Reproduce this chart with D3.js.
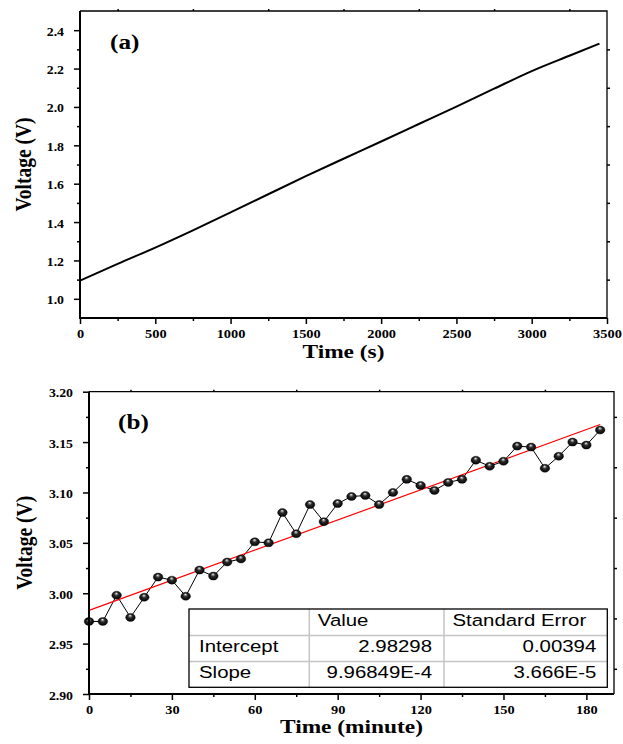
<!DOCTYPE html>
<html>
<head>
<meta charset="utf-8">
<script src="https://cdn.jsdelivr.net/npm/d3@7"></script>
<style>
body { margin: 0; background: #fff; }
svg { display: block; }
text { font-family: "Liberation Serif", "Times New Roman", serif; font-weight: bold; fill: #000; }
.tbl text { font-family: "Liberation Sans", Arial, sans-serif; font-weight: normal; }
</style>
</head>
<body>
<svg id="chart" width="623" height="744"></svg>
<script>
// panel (a): voltage vs time in seconds
const timeA = [0, 250, 500, 750, 1000, 1250, 1500, 1750, 2000, 2250, 2500, 2750, 3000, 3250, 3450];
const voltA = [1.095, 1.182, 1.267, 1.357, 1.450, 1.545, 1.639, 1.730, 1.820, 1.911, 2.002, 2.095, 2.187, 2.267, 2.330];
const ticksAX = [0, 500, 1000, 1500, 2000, 2500, 3000, 3500];
const ticksAY = [1.0, 1.2, 1.4, 1.6, 1.8, 2.0, 2.2, 2.4];

// panel (b): voltage vs time in minutes, with linear fit
const timeB = [0, 5, 10, 15, 20, 25, 30, 35, 40, 45, 50, 55, 60, 65, 70, 75, 80, 85, 90,
  95, 100, 105, 110, 115, 120, 125, 130, 135, 140, 145, 150, 155, 160, 165, 170, 175, 180, 185];
const voltB = [2.972, 2.972, 2.998, 2.976, 2.996, 3.016, 3.013, 2.997, 3.023, 3.017, 3.031, 3.034, 3.051,
  3.050, 3.080, 3.059, 3.088, 3.071, 3.089, 3.096, 3.097, 3.088, 3.100, 3.113, 3.107, 3.102, 3.110,
  3.113, 3.132, 3.126, 3.131, 3.146, 3.145, 3.124, 3.136, 3.150, 3.147, 3.162];
const ticksBX = [0, 30, 60, 90, 120, 150, 180];
const ticksBY = [2.90, 2.95, 3.00, 3.05, 3.10, 3.15, 3.20];

// fit table
const tableHeader = ['', 'Value', 'Standard Error'];
const paramNames = ['Intercept', 'Slope'];
const paramValues = ['2.98298', '9.96849E-4'];
const paramErrors = ['0.00394', '3.666E-5'];

const svg = d3.select('#chart');
const K = 1.2; // the original picture is a bit wider than tall, text looks stretched

const grad = svg.append('defs').append('radialGradient').attr('id', 'ball')
  .attr('cx', '50%').attr('cy', '50%').attr('r', '55%')
  .attr('fx', '46%').attr('fy', '24%');
[['0%', '#ffffff'], ['16%', '#a0a0a0'], ['42%', '#2a2a2a'], ['100%', '#000000']]
  .forEach(([o, c]) => grad.append('stop').attr('offset', o).attr('stop-color', c));

function stretchText(sel, dx, dy) {
  sel.attr('x', null).attr('y', null).attr('dy', null)
    .attr('transform', `translate(${dx},${dy}) scale(${K},1)`);
}

function frame(g, x, y, o) {
  const [xl, xr] = x.range(), [yb, yt] = y.range();
  const ax = (axis, t) => g.append('g').attr('transform', t).call(axis)
    .call(s => s.select('.domain').remove())
    .call(s => s.selectAll('line').attr('stroke-width', 1.5));

  ax(d3.axisBottom(x).tickValues(o.xMinor).tickSize(3).tickFormat(''), `translate(0,${yb})`);
  ax(d3.axisLeft(y).tickValues(o.yMinor).tickSize(3).tickFormat(''), `translate(${xl},0)`);
  ax(d3.axisTop(x).tickValues(o.xMinor).tickSize(2).tickFormat(''), `translate(0,${yt})`);
  ax(d3.axisRight(y).tickValues(o.yMinor).tickSize(3).tickFormat(''), `translate(${xr},0)`);

  const bx = ax(d3.axisBottom(x).tickValues(o.xTicks).tickSize(6).tickFormat(o.xFmt), `translate(0,${yb})`);
  const ly = ax(d3.axisLeft(y).tickValues(o.yTicks).tickSize(6).tickFormat(o.yFmt), `translate(${xl},0)`);
  bx.selectAll('text').call(stretchText, 0, 20).attr('font-size', 12);
  ly.selectAll('text').call(stretchText, -16, 5).attr('font-size', 11.5).attr('text-anchor', 'end');

  g.append('path').attr('d', `M${xl},${yt}H${xr}V${yb}`)
    .attr('fill', 'none').attr('stroke', '#000').attr('stroke-width', 1.3);
  g.append('path').attr('d', `M${xl},${yt}V${yb}H${xr}`)
    .attr('fill', 'none').attr('stroke', '#000').attr('stroke-width', 2);

  g.append('text').attr('text-anchor', 'middle').attr('font-size', 19.5)
    .attr('transform', `translate(${(xl + xr) / 2},${o.xTitleY}) scale(${K},1)`)
    .text(o.xTitle);
  g.append('text').attr('text-anchor', 'middle').attr('font-size', 19.5)
    .attr('transform', `translate(${o.yTitleX},${(yt + yb) / 2}) scale(${K},1) rotate(-90)`)
    .text('Voltage (V)');
  g.append('text').attr('font-size', 21)
    .attr('transform', `translate(${o.tag[0]},${o.tag[1]}) scale(${K},1)`)
    .text(o.tagText);
}

// ---------- panel (a)
const xA = d3.scaleLinear().domain([0, 3500]).range([80, 607]);
const yA = d3.scaleLinear().domain([0.9, 2.5]).range([318, 11]);
const gA = svg.append('g');

gA.append('path')
  .attr('d', d3.line().curve(d3.curveMonotoneX)
    .x((d, i) => xA(timeA[i])).y(d => yA(d))(voltA))
  .attr('fill', 'none').attr('stroke', '#000').attr('stroke-width', 2);

frame(gA, xA, yA, {
  xTicks: ticksAX, xMinor: d3.range(250, 3500, 500),
  yTicks: ticksAY, yMinor: d3.range(1.1, 2.5, 0.2),
  xFmt: d3.format('d'), yFmt: d3.format('.1f'),
  xTitle: 'Time (s)', xTitleY: 358, yTitleX: 31,
  tag: [110, 49], tagText: '(a)'
});

// ---------- panel (b)
const xB = d3.scaleLinear().domain([0, 190]).range([89, 614]);
const yB = d3.scaleLinear().domain([2.90, 3.20]).range([694, 391.7]);
const gB = svg.append('g');

gB.append('path')
  .attr('d', d3.line().x((d, i) => xB(timeB[i])).y(d => yB(d))(voltB))
  .attr('fill', 'none').attr('stroke', '#000').attr('stroke-width', 1);

const b0 = Number(paramValues[0]), b1 = Number(paramValues[1]);
const fitX = d3.extent(timeB);
gB.append('line')
  .attr('x1', xB(fitX[0])).attr('y1', yB(b0 + b1 * fitX[0]))
  .attr('x2', xB(fitX[1])).attr('y2', yB(b0 + b1 * fitX[1]))
  .attr('stroke', '#ff0000').attr('stroke-width', 1.2);

gB.selectAll('ellipse')
  .data(voltB)
  .join('ellipse')
  .attr('cx', (d, i) => xB(timeB[i]))
  .attr('cy', d => yB(d))
  .attr('rx', 4.8).attr('ry', 4)
  .attr('fill', 'url(#ball)')
  .attr('stroke', '#000').attr('stroke-width', 0.4);

// fit table
const colX = [189, 309.3, 444, 607.3];
const rowY = [609, 635.5, 661.5, 687.3];
const tbl = gB.append('g').attr('class', 'tbl');
tbl.append('rect').attr('x', colX[0]).attr('y', rowY[0])
  .attr('width', colX[3] - colX[0]).attr('height', rowY[3] - rowY[0]).attr('fill', '#fff');
[colX[1], colX[2]].forEach(cx => tbl.append('line')
  .attr('x1', cx).attr('x2', cx).attr('y1', rowY[0]).attr('y2', rowY[3])
  .attr('stroke', '#c4c4c4').attr('stroke-width', 1.5));
[rowY[1], rowY[2]].forEach(ry => tbl.append('line')
  .attr('x1', colX[0]).attr('x2', colX[3]).attr('y1', ry).attr('y2', ry)
  .attr('stroke', '#c4c4c4').attr('stroke-width', 1.5));
tbl.append('rect').attr('x', colX[0]).attr('y', rowY[0])
  .attr('width', colX[3] - colX[0]).attr('height', rowY[3] - rowY[0])
  .attr('fill', 'none').attr('stroke', '#000').attr('stroke-width', 1.3);

const cell = (txt, x, y, anchor) => tbl.append('text')
  .attr('font-size', 17).attr('text-anchor', anchor)
  .attr('transform', `translate(${x},${y}) scale(${K},1)`).text(txt);

tableHeader.forEach((h, j) => { if (h) cell(h, colX[j] + 8.5, rowY[1] - 9.5, 'start'); });
paramNames.forEach((n, i) => {
  const by = rowY[i + 2] - 9.5;
  cell(n, colX[0] + 10, by, 'start');
  cell(paramValues[i], colX[2] - 12, by, 'end');
  cell(paramErrors[i], colX[3] - 11, by, 'end');
});

frame(gB, xB, yB, {
  xTicks: ticksBX, xMinor: d3.range(15, 190, 30),
  yTicks: ticksBY, yMinor: d3.range(2.925, 3.2, 0.05),
  xFmt: d3.format('d'), yFmt: d3.format('.2f'),
  xTitle: 'Time (minute)', xTitleY: 733, yTitleX: 32,
  tag: [118, 429], tagText: '(b)'
});
</script>
</body>
</html>
